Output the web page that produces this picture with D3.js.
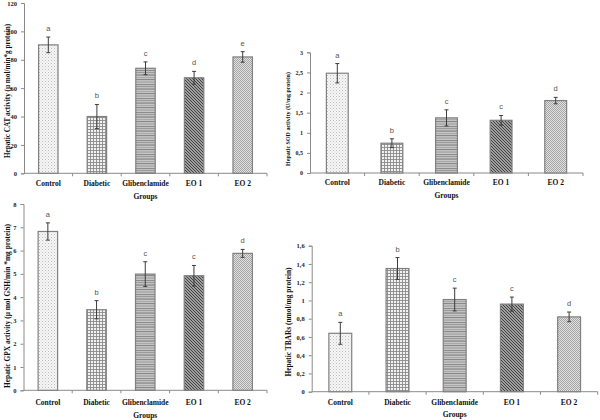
<!DOCTYPE html>
<html>
<head>
<meta charset="utf-8">
<script src="https://cdn.jsdelivr.net/npm/d3@7"></script>
<style>
  body { margin: 0; background: #fff; }
  svg { display: block; }
</style>
</head>
<body>
<svg id="chart" width="600" height="420"></svg>
<script>
// ---------- data ----------
const categories = ["Control", "Diabetic", "Glibenclamide", "EO 1", "EO 2"];

const catValues  = [90.5, 40, 74, 67.3, 82];
const catErrors  = [5.5, 8.5, 4.5, 4.5, 3.7];
const catLetters = ["a", "b", "c", "d", "e"];
const catTicks   = [0, 20, 40, 60, 80, 100, 120];

const sodValues  = [2.48, 0.74, 1.37, 1.31, 1.8];
const sodErrors  = [0.24, 0.11, 0.2, 0.12, 0.08];
const sodLetters = ["a", "b", "c", "c", "d"];
const sodTicks   = [0, 0.5, 1, 1.5, 2, 2.5, 3];

const gpxValues  = [6.82, 3.46, 4.99, 4.92, 5.88];
const gpxErrors  = [0.37, 0.39, 0.53, 0.44, 0.17];
const gpxLetters = ["a", "b", "c", "c", "d"];
const gpxTicks   = [0, 1, 2, 3, 4, 5, 6, 7, 8];

const tbaValues  = [0.64, 1.35, 1.01, 0.96, 0.82];
const tbaErrors  = [0.12, 0.12, 0.125, 0.077, 0.053];
const tbaLetters = ["a", "b", "c", "c", "d"];
const tbaTicks   = [0, 0.2, 0.4, 0.6, 0.8, 1, 1.2, 1.4, 1.6];

const groupsTitle = "Groups";
const catTitle = "Hepatic CAT activity (\u03bc mol/min*g protein)";
const sodTitle = "Hepatic SOD activity (U/mg protein)";
const gpxTitle = "Hepatic GPX activity (\u03bc mol GSH/min *mg protein)";
const tbaTitle = "Hepatic TBARs (nmol/mg protein)";

// ---------- drawing ----------
const svg = d3.select("#chart");
const defs = svg.append("defs");

function pat(id, w, h) {
  return defs.append("pattern").attr("id", id).attr("patternUnits", "userSpaceOnUse")
    .attr("width", w).attr("height", h);
}
// Control: fine light dots
let p = pat("pControl", 3, 3);
p.append("rect").attr("width", 3).attr("height", 3).attr("fill", "#f6f6f6");
p.append("rect").attr("x", 0).attr("y", 0).attr("width", 1).attr("height", 1).attr("fill", "#bcbcbc");
p.append("rect").attr("x", 1.5).attr("y", 1.5).attr("width", 1).attr("height", 1).attr("fill", "#d2d2d2");
// Diabetic: small grid
p = pat("pDiab", 3, 3);
p.append("rect").attr("width", 3).attr("height", 3).attr("fill", "#f2f2f2");
p.append("rect").attr("x", 0).attr("y", 0).attr("width", 3).attr("height", 0.9).attr("fill", "#8a8a8a");
p.append("rect").attr("x", 0).attr("y", 0).attr("width", 0.9).attr("height", 3).attr("fill", "#8a8a8a");
// Glibenclamide: horizontal stripes of varying grey
p = pat("pGlib", 4, 14);
p.append("rect").attr("width", 4).attr("height", 14).attr("fill", "#c6c6c6");
[[0, "#8c8c8c"], [2, "#9a9a9a"], [4.5, "#7e7e7e"], [7, "#a8a8a8"], [9, "#888"], [11.5, "#9e9e9e"]].forEach(([y, c]) =>
  p.append("rect").attr("x", 0).attr("y", y).attr("width", 4).attr("height", 1.1).attr("fill", c));
// EO1: dark diagonal lines (\ direction)
p = pat("pEO1", 3, 3);
p.append("rect").attr("width", 3).attr("height", 3).attr("fill", "#c8c8c8");
p.append("path").attr("d", "M-1,-1 L4,4 M-1,2 L1,4 M2,-1 L4,1").attr("stroke", "#3a3a3a").attr("stroke-width", 1.1);
// EO2: checkered dots
p = pat("pEO2", 2, 2);
p.append("rect").attr("width", 2).attr("height", 2).attr("fill", "#e2e2e2");
p.append("rect").attr("x", 0).attr("y", 0).attr("width", 1).attr("height", 1).attr("fill", "#a4a4a4");
p.append("rect").attr("x", 1).attr("y", 1).attr("width", 1).attr("height", 1).attr("fill", "#a4a4a4");

const fills = ["url(#pControl)", "url(#pDiab)", "url(#pGlib)", "url(#pEO1)", "url(#pEO2)"];
const fmt = d => String(d).replace(".", ",");
const serif = "'Liberation Serif', 'Times New Roman', serif";

function panel(cfg) {
  const g = svg.append("g");
  const x = d3.scaleBand().domain(categories).range([cfg.x0, cfg.x1]).paddingInner(0.6).paddingOuter(0.3);
  const y = d3.scaleLinear().domain([0, cfg.max]).range([cfg.y0, cfg.yTop]);
  const axisColor = "#8a8a8a";

  const ya = g.append("g").attr("transform", `translate(${cfg.x0},0)`)
    .call(d3.axisLeft(y).tickValues(cfg.ticks).tickFormat(fmt).tickSize(3).tickPadding(4));
  ya.select(".domain").attr("stroke", axisColor);
  ya.selectAll(".tick line").attr("stroke", axisColor);
  ya.selectAll("text").attr("font-family", serif).attr("font-weight", "bold")
    .attr("font-size", cfg.tickFont).attr("fill", "#222");

  g.append("line").attr("x1", cfg.x0).attr("x2", cfg.x1).attr("y1", cfg.y0).attr("y2", cfg.y0)
    .attr("stroke", axisColor).attr("stroke-width", 1);
  const step = x.step();
  const start = x(categories[0]) - (step - x.bandwidth()) / 2;
  const bounds = d3.range(1, categories.length + 1).map(i => start + i * step);
  g.selectAll(".bt").data(bounds).join("line")
    .attr("x1", d => d).attr("x2", d => d).attr("y1", cfg.y0).attr("y2", cfg.y0 + 3)
    .attr("stroke", axisColor);

  g.selectAll(".cl").data(categories).join("text")
    .attr("x", d => x(d) + x.bandwidth() / 2).attr("y", cfg.catY).attr("dy", "0.35em")
    .attr("text-anchor", "middle").attr("font-family", serif).attr("font-weight", "bold")
    .attr("font-size", cfg.catFont).attr("fill", "#111").text(d => d);

  g.append("text").attr("x", (cfg.x0 + cfg.x1) / 2).attr("y", cfg.groupsY).attr("dy", "0.35em")
    .attr("text-anchor", "middle").attr("font-family", serif).attr("font-weight", "bold")
    .attr("font-size", cfg.catFont).attr("fill", "#111").text(groupsTitle);

  g.append("text").attr("transform", `translate(${cfg.titleX},${cfg.titleY}) rotate(-90)`)
    .attr("text-anchor", "middle").attr("dy", "0.35em").attr("font-family", serif).attr("font-weight", "bold")
    .attr("font-size", cfg.titleFont).attr("fill", "#111").text(cfg.title);

  const data = categories.map((c, i) => ({ c, v: cfg.values[i], e: cfg.errors[i], l: cfg.letters[i], f: fills[i] }));

  g.selectAll(".bar").data(data).join("rect")
    .attr("x", d => x(d.c)).attr("width", x.bandwidth())
    .attr("y", d => y(d.v)).attr("height", d => y(0) - y(d.v))
    .attr("fill", d => d.f).attr("stroke", "#808080").attr("stroke-width", 1.2);

  const eg = g.selectAll(".err").data(data).join("g").attr("stroke", "#3c3c3c").attr("stroke-width", 1);
  const cx = d => x(d.c) + x.bandwidth() / 2;
  eg.append("line").attr("x1", cx).attr("x2", cx)
    .attr("y1", d => y(d.v + d.e)).attr("y2", d => y(d.v - d.e));
  eg.append("line").attr("x1", d => cx(d) - 2).attr("x2", d => cx(d) + 2)
    .attr("y1", d => y(d.v + d.e)).attr("y2", d => y(d.v + d.e));
  eg.append("line").attr("x1", d => cx(d) - 2).attr("x2", d => cx(d) + 2)
    .attr("y1", d => y(d.v - d.e)).attr("y2", d => y(d.v - d.e));

  g.selectAll(".lt").data(data).join("text")
    .attr("x", cx).attr("y", d => y(d.v + d.e) - 6)
    .attr("text-anchor", "middle").attr("font-family", "'Liberation Sans', Arial, sans-serif")
    .attr("font-size", 7.5).attr("fill", "#555").text(d => d.l);
}

panel({ x0: 24, x1: 267, y0: 173.3, yTop: 3, max: 120, ticks: catTicks, values: catValues, errors: catErrors,
  letters: catLetters, title: catTitle, titleX: 7, titleY: 91, titleFont: 7.2, tickFont: 6.5, catFont: 7.5,
  catY: 183, groupsY: 196 });
panel({ x0: 310, x1: 583, y0: 173, yTop: 52.3, max: 3, ticks: sodTicks, values: sodValues, errors: sodErrors,
  letters: sodLetters, title: sodTitle, titleX: 288, titleY: 119, titleFont: 6, tickFont: 6, catFont: 7.5,
  catY: 182, groupsY: 195 });
panel({ x0: 23.5, x1: 267, y0: 390.3, yTop: 204, max: 8, ticks: gpxTicks, values: gpxValues, errors: gpxErrors,
  letters: gpxLetters, title: gpxTitle, titleX: 7, titleY: 306, titleFont: 7.4, tickFont: 6.5, catFont: 7.5,
  catY: 402, groupsY: 415.5 });
panel({ x0: 311.7, x1: 597.7, y0: 391.7, yTop: 245.7, max: 1.6, ticks: tbaTicks, values: tbaValues, errors: tbaErrors,
  letters: tbaLetters, title: tbaTitle, titleX: 288, titleY: 322, titleFont: 7.4, tickFont: 6.5, catFont: 7.5,
  catY: 402.7, groupsY: 414 });
</script>
</body>
</html>
